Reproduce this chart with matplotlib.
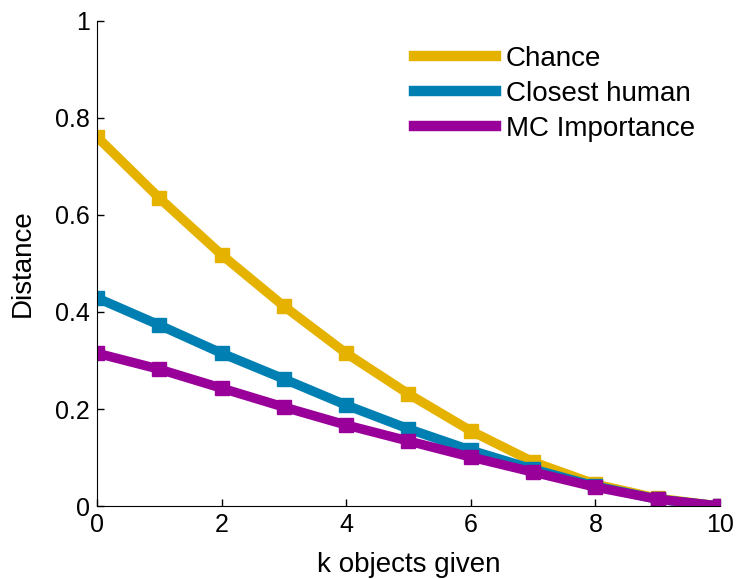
import matplotlib
matplotlib.use("Agg")
import matplotlib.pyplot as plt

plt.rcParams['font.family'] = ['Liberation Sans', 'DejaVu Sans']

k = [0, 1, 2, 3, 4, 5, 6, 7, 8, 9, 10]
chance = [0.761, 0.635, 0.518, 0.412, 0.315, 0.231, 0.155, 0.091, 0.045, 0.016, 0.0]
closest_human = [0.429, 0.373, 0.315, 0.262, 0.208, 0.159, 0.115, 0.076, 0.041, 0.014, 0.0]
mc_importance = [0.315, 0.282, 0.243, 0.204, 0.167, 0.134, 0.101, 0.070, 0.039, 0.014, 0.0]

series = [
    ("Chance", chance, "#E6B200"),
    ("Closest human", closest_human, "#0080B2"),
    ("MC Importance", mc_importance, "#990099"),
]

fig = plt.figure(figsize=(7.4, 5.79), dpi=100)
ax = fig.add_axes([0.131, 0.126, 0.842, 0.838])

for name, vals, col in series:
    ax.plot(k, vals, color=col, lw=6.8, marker='s', ms=10, label=name,
            solid_joinstyle='miter')

ax.set_xlim(0, 10)
ax.set_ylim(0, 1)
ax.set_xticks([0, 2, 4, 6, 8, 10])
ax.set_yticks([0, 0.2, 0.4, 0.6, 0.8, 1])
ax.set_yticklabels(["0", "0.2", "0.4", "0.6", "0.8", "1"])
ax.tick_params(direction='in', labelsize=18, length=5, width=1, pad=5)
for s in ['top', 'right']:
    ax.spines[s].set_visible(False)
ax.set_xlabel("k objects given", fontsize=20, labelpad=11)
ax.set_ylabel("Distance", fontsize=20, labelpad=14)

leg = ax.legend(loc='upper right', frameon=False, fontsize=20, handlelength=2.95,
                handletextpad=0.36, labelspacing=0.33, borderaxespad=0.5)
for h in leg.get_lines():
    h.set_marker('')
    h.set_linewidth(7.5)

fig.savefig("out.png", dpi=100)
